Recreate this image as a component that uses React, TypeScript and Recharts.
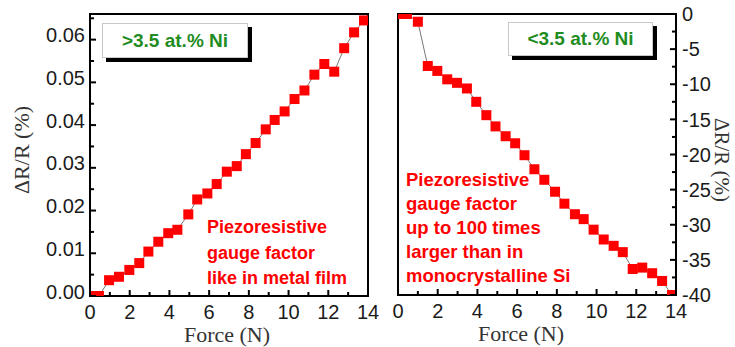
import React from 'react';
import { LineChart, Line, XAxis, YAxis, ReferenceArea } from 'recharts';

// left panel (>3.5 at.% Ni)
const leftForce = [0, 0.45, 0.96, 1.46, 1.98, 2.48, 2.94, 3.44, 3.94, 4.4, 4.95, 5.4, 5.91, 6.38, 6.89, 7.39, 7.85, 8.34, 8.85, 9.3, 9.8, 10.3, 10.8, 11.3, 11.8, 12.3, 12.8, 13.3, 13.8];
const leftDR = [0, 0, 0.0037, 0.0045, 0.0061, 0.0077, 0.0104, 0.0127, 0.0147, 0.0155, 0.0191, 0.0226, 0.024, 0.0262, 0.0291, 0.0304, 0.0332, 0.0358, 0.039, 0.0412, 0.0432, 0.0461, 0.0481, 0.0518, 0.0543, 0.0525, 0.058, 0.0617, 0.0645];

// right panel (<3.5 at.% Ni)
const rightForce = [0, 0.45, 1.0, 1.5, 1.98, 2.48, 2.97, 3.47, 3.94, 4.45, 4.91, 5.42, 5.9, 6.37, 6.87, 7.37, 7.91, 8.38, 8.91, 9.35, 9.85, 10.36, 10.86, 11.32, 11.82, 12.3, 12.8, 13.3, 13.8];
const rightDR = [0, 0, -1.1, -7.4, -8.1, -9.3, -9.8, -10.6, -12.5, -14.4, -16.0, -17.4, -18.4, -20.1, -22.1, -23.6, -25.3, -27.0, -28.5, -29.2, -30.7, -32.1, -33.0, -33.9, -36.3, -36.1, -36.9, -38.0, -40.0];

const forceTicks = [0, 1, 2, 3, 4, 5, 6, 7, 8, 9, 10, 11, 12, 13, 14];
const leftTicks = [0, 0.005, 0.01, 0.015, 0.02, 0.025, 0.03, 0.035, 0.04, 0.045, 0.05, 0.055, 0.06, 0.065];
const rightTicks = [0, -2.5, -5, -7.5, -10, -12.5, -15, -17.5, -20, -22.5, -25, -27.5, -30, -32.5, -35, -37.5, -40];

const leftBox = '>3.5 at.% Ni';
const rightBox = '<3.5 at.% Ni';
const leftNote = ['Piezoresistive', 'gauge factor', 'like in metal film'];
const rightNote = ['Piezoresistive', 'gauge factor', 'up to 100 times', 'larger than in', 'monocrystalline Si'];
const xTitle = 'Force (N)';
const yTitle = 'ΔR/R (%)';

const leftData = leftForce.map((f, i) => ({ force: f, dr: leftDR[i] }));
const rightData = rightForce.map((f, i) => ({ force: f, dr: rightDR[i] }));

const sans = 'Liberation Sans, Arial, sans-serif';
const serif = 'Liberation Serif, Times New Roman, serif';
const tickText = { fontFamily: sans, fontSize: 20, fill: '#1a1a1a' };

const BottomTick = (props: any) => {
  const { x, y, payload } = props;
  const v = payload.value;
  const major = v % 2 === 0;
  const axisY = y - 8;
  return (
    <g>
      <line x1={x} x2={x} y1={axisY} y2={axisY - (major ? 6 : 4)} stroke="#000" strokeWidth={2} />
      {major && <text x={x} y={y} dy={14.5} textAnchor="middle" {...tickText}>{v}</text>}
    </g>
  );
};

const LeftTick = (props: any) => {
  const { x, y, payload } = props;
  const v = payload.value;
  const major = Math.round(v * 1000) % 10 === 0;
  const axisX = x + 5;
  return (
    <g>
      <line x1={axisX} x2={axisX + (major ? 6 : 4)} y1={y} y2={y} stroke="#000" strokeWidth={2} />
      {major && <text x={x} y={y} dy={2.5} textAnchor="end" {...tickText}>{v.toFixed(2)}</text>}
    </g>
  );
};

const RightTick = (props: any) => {
  const { x, y, payload } = props;
  const v = payload.value;
  const major = v % 5 === 0;
  const axisX = x - 6;
  return (
    <g>
      <line x1={axisX - (major ? 6 : 4)} x2={axisX} y1={y} y2={y} stroke="#000" strokeWidth={2} />
      {major && <text x={x} y={y} dy={7.2} textAnchor="start" {...tickText}>{String(v)}</text>}
    </g>
  );
};

const SquareDot = (props: any) => {
  const { cx, cy, index } = props;
  return <rect key={'d' + index} x={cx - 5} y={cy - 5} width={10} height={10} fill="#ff0000" />;
};

// axis title at a fixed spot; props named so the Label clone does not override them
const Title = ({ tx, ty, rot, text, size = 22 }: any) => (
  <text transform={`translate(${tx},${ty}) rotate(${rot})`} textAnchor="middle" fontFamily={serif} fontSize={size} fill="#333">
    {text}
  </text>
);

const boxStyle = (left: number, top: number, w: number, h: number): React.CSSProperties => ({
  position: 'absolute', left, top, width: w, height: h, boxSizing: 'border-box',
  border: '1px solid #c8c8c8', background: '#fff', boxShadow: '4px 4px 0 #000',
  display: 'flex', alignItems: 'center', justifyContent: 'center',
  fontFamily: sans, fontWeight: 700, fontSize: 19, color: '#1f8c1f',
});

const noteStyle = (left: number, top: number, lh: number, fs: number): React.CSSProperties => ({
  position: 'absolute', left, top, lineHeight: lh + 'px', fontSize: fs,
  fontFamily: sans, fontWeight: 700, color: '#ff0000', whiteSpace: 'pre',
});

export default function App() {
  return (
    <div style={{ position: 'absolute', left: 0, top: 0, width: 735, height: 347, background: '#fff', overflow: 'hidden' }}>
      <div style={{ position: 'absolute', left: 0, top: 0 }}>
        <LineChart width={380} height={347} data={leftData} margin={{ top: 14, right: 12, bottom: 0, left: 0 }}>
          <XAxis type="number" dataKey="force" domain={[0, 14]} ticks={forceTicks} interval={0} allowDataOverflow
            height={51} tickSize={0} tickMargin={8} tickLine={false} axisLine={false} tick={(p: any) => <BottomTick {...p} />}
            label={<Title tx={227} ty={342} rot={0} text={xTitle} />} />
          <YAxis type="number" domain={[0, 0.066]} ticks={leftTicks} interval={0} allowDataOverflow
            width={90} tickSize={0} tickMargin={5} tickLine={false} axisLine={false} tick={(p: any) => <LeftTick {...p} />}
            label={<Title tx={29} ty={150} rot={-90} text={yTitle} />} />
          <ReferenceArea x1={0} x2={14} y1={0} y2={0.066} fill="none" stroke="#000" strokeWidth={2} />
          <Line type="linear" dataKey="dr" stroke="#777" strokeWidth={1} dot={(p: any) => <SquareDot {...p} />} isAnimationActive={false} />
        </LineChart>
      </div>
      <div style={{ position: 'absolute', left: 370, top: 0 }}>
        <LineChart width={364} height={347} data={rightData} margin={{ top: 14, right: 0, bottom: 0, left: 28 }}>
          <XAxis type="number" dataKey="force" domain={[0, 14]} ticks={forceTicks} interval={0} allowDataOverflow
            height={52} tickSize={0} tickMargin={8} tickLine={false} axisLine={false} tick={(p: any) => <BottomTick {...p} />}
            label={<Title tx={151} ty={341} rot={0} text={xTitle} />} />
          <YAxis type="number" orientation="right" domain={[-40, 0]} ticks={rightTicks} interval={0} allowDataOverflow
            width={58} tickSize={0} tickMargin={6} tickLine={false} axisLine={false} tick={(p: any) => <RightTick {...p} />}
            label={<Title tx={345} ty={160} rot={90} size={21} text={yTitle} />} />
          <ReferenceArea x1={0} x2={14} y1={-40} y2={0} fill="none" stroke="#000" strokeWidth={2} />
          <Line type="linear" dataKey="dr" stroke="#777" strokeWidth={1} dot={(p: any) => <SquareDot {...p} />} isAnimationActive={false} />
        </LineChart>
      </div>
      <div style={boxStyle(102, 23, 146, 35)}>{leftBox}</div>
      <div style={boxStyle(508, 22, 145, 34)}>{rightBox}</div>
      <div style={noteStyle(207, 215, 25.5, 18)}>{leftNote.join('\n')}</div>
      <div style={noteStyle(406, 168, 24, 18.5)}>{rightNote.join('\n')}</div>
    </div>
  );
}
